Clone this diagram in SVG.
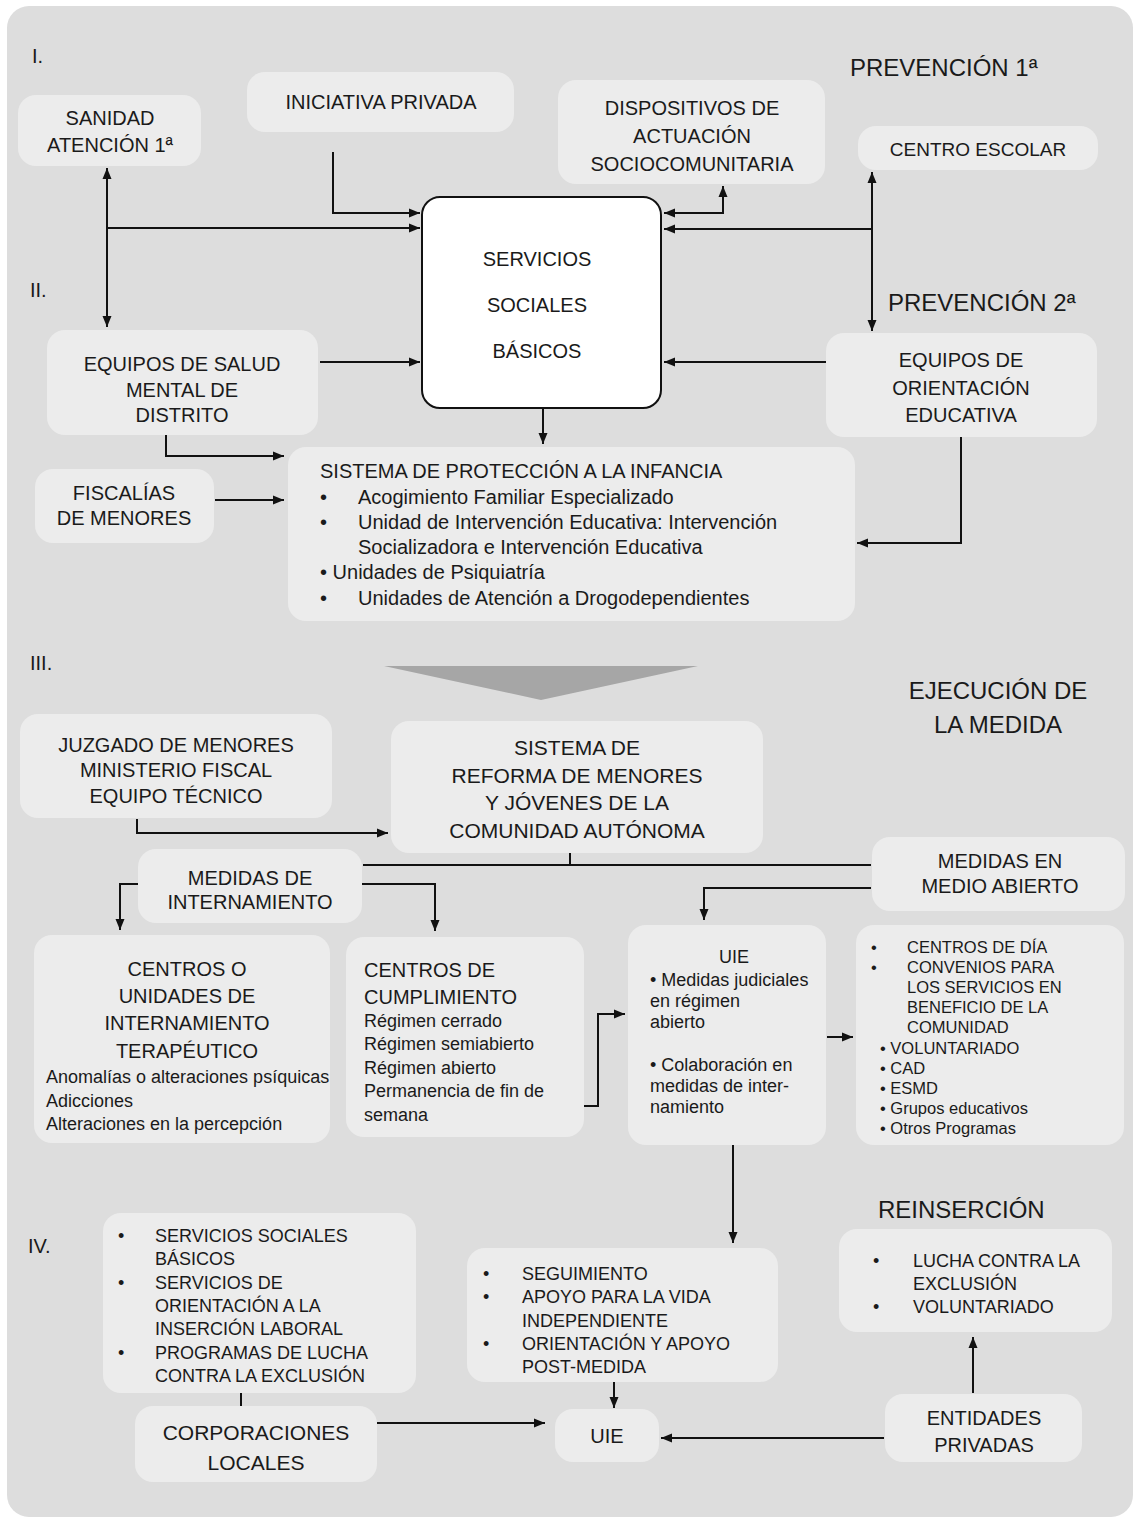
<svg xmlns="http://www.w3.org/2000/svg" width="1133" height="1520" viewBox="0 0 1133 1520">
<style>
text{font-family:"Liberation Sans",Arial,sans-serif;fill:#1a1a1a;font-size:20px}
.c{text-anchor:middle}
.h{font-size:24px}
.m{font-size:21px}
.s{font-size:18px}
.xs{font-size:16.5px}
.box{fill:#ececec}
.ln{fill:none;stroke:#111;stroke-width:2}
.a{marker-end:url(#ah)}
.d{marker-start:url(#ah2);marker-end:url(#ah)}
</style>
<defs>
<marker id="ah" markerUnits="userSpaceOnUse" markerWidth="12" markerHeight="10" refX="11" refY="5" orient="auto"><path d="M0,0.5 L11,5 L0,9.5 z" fill="#111"/></marker>
<marker id="ah2" markerUnits="userSpaceOnUse" markerWidth="12" markerHeight="10" refX="11" refY="5" orient="auto-start-reverse"><path d="M0,0.5 L11,5 L0,9.5 z" fill="#111"/></marker>
</defs>
<rect x="7" y="6" width="1126" height="1511" rx="22" fill="#dddddd"/>

<g id="labels">
<text x="32" y="63">I.</text>
<text x="30" y="297">II.</text>
<text x="30" y="670">III.</text>
<text x="28" y="1253">IV.</text>
<text class="h" x="850" y="76">PREVENCIÓN 1ª</text>
<text class="h" x="888" y="311">PREVENCIÓN 2ª</text>
<text class="h c" x="998" y="699">EJECUCIÓN DE</text>
<text class="h c" x="998" y="733">LA MEDIDA</text>
<text class="h" x="878" y="1218">REINSERCIÓN</text>
<polygon points="384,666 698,666 541,700" fill="#a6a6a6"/>
</g>

<g id="connectors">
<path class="ln d" d="M107,168 V327"/>
<path class="ln a" d="M107,228 H420"/>
<path class="ln a" d="M333,152 V213 H420"/>
<path class="ln a" d="M320,362 H420"/>
<path class="ln d" d="M723,186 V213 H664"/>
<path class="ln d" d="M872,172 V331"/>
<path class="ln a" d="M872,229 H664"/>
<path class="ln a" d="M826,362 H664"/>
<path class="ln a" d="M543,408 V444"/>
<path class="ln a" d="M166,435 V456 H284"/>
<path class="ln a" d="M215,500 H284"/>
<path class="ln a" d="M961,437 V543 H857"/>
<path class="ln a" d="M137,819 V833 H388"/>
<path class="ln" d="M570,853 V865 M363,865 H871"/>
<path class="ln a" d="M138,884 H120 V930"/>
<path class="ln a" d="M362,884 H435 V931"/>
<path class="ln a" d="M871,888 H704 V920"/>
<path class="ln a" d="M584,1106 H598 V1014 H625"/>
<path class="ln a" d="M827,1037 H853"/>
<path class="ln a" d="M733,1145 V1243"/>
<path class="ln a" d="M614,1382 V1408"/>
<path class="ln a" d="M377,1423 H545"/>
<path class="ln a" d="M884,1438 H661"/>
<path class="ln a" d="M973,1393 V1337"/>
<path class="ln" d="M241,1393 V1406"/>
</g>

<g id="sanidad"><rect class="box" x="18" y="95" width="183" height="71" rx="18"/>
<text class="c" x="110" y="125">SANIDAD</text><text class="c" x="110" y="152">ATENCIÓN 1ª</text></g>

<g id="iniciativa"><rect class="box" x="247" y="72" width="267" height="60" rx="18"/>
<text class="c" x="381" y="109">INICIATIVA PRIVADA</text></g>

<g id="dispositivos"><rect class="box" x="558" y="80" width="267" height="104" rx="18"/>
<text class="c" x="692" y="115">DISPOSITIVOS DE</text><text class="c" x="692" y="143">ACTUACIÓN</text><text class="c" x="692" y="171">SOCIOCOMUNITARIA</text></g>

<g id="escolar"><rect class="box" x="858" y="126" width="240" height="44" rx="18"/>
<text class="c" x="978" y="156" style="font-size:19px">CENTRO ESCOLAR</text></g>

<g id="ssb"><rect x="422" y="197" width="239" height="211" rx="18" fill="#fff" stroke="#111" stroke-width="2"/>
<text class="c" x="537" y="266">SERVICIOS</text><text class="c" x="537" y="312">SOCIALES</text><text class="c" x="537" y="358">BÁSICOS</text></g>

<g id="salud"><rect class="box" x="47" y="330" width="271" height="105" rx="18"/>
<text class="c" x="182" y="371">EQUIPOS DE SALUD</text><text class="c" x="182" y="397">MENTAL DE</text><text class="c" x="182" y="422">DISTRITO</text></g>

<g id="orientacion"><rect class="box" x="826" y="333" width="271" height="104" rx="18"/>
<text class="c" x="961" y="367">EQUIPOS DE</text><text class="c" x="961" y="395">ORIENTACIÓN</text><text class="c" x="961" y="422">EDUCATIVA</text></g>

<g id="fiscalias"><rect class="box" x="35" y="469" width="179" height="74" rx="18"/>
<text class="c" x="124" y="500">FISCALÍAS</text><text class="c" x="124" y="525">DE MENORES</text></g>

<g id="proteccion"><rect class="box" x="288" y="447" width="567" height="174" rx="18"/>
<text x="320" y="478">SISTEMA DE PROTECCIÓN A LA INFANCIA</text>
<text x="320" y="504">•</text><text x="358" y="504">Acogimiento Familiar Especializado</text>
<text x="320" y="529">•</text><text x="358" y="529">Unidad de Intervención Educativa: Intervención</text>
<text x="358" y="554">Socializadora e Intervención Educativa</text>
<text x="320" y="579">• Unidades de Psiquiatría</text>
<text x="320" y="605">•</text><text x="358" y="605">Unidades de Atención a Drogodependientes</text></g>

<g id="juzgado"><rect class="box" x="20" y="714" width="312" height="104" rx="18"/>
<text class="c" x="176" y="752">JUZGADO DE MENORES</text><text class="c" x="176" y="777">MINISTERIO FISCAL</text><text class="c" x="176" y="803">EQUIPO TÉCNICO</text></g>

<g id="reforma"><rect class="box" x="391" y="721" width="372" height="132" rx="18"/>
<text class="c m" x="577" y="755">SISTEMA DE</text><text class="c m" x="577" y="783">REFORMA DE MENORES</text><text class="c m" x="577" y="810">Y JÓVENES DE LA</text><text class="c m" x="577" y="838">COMUNIDAD AUTÓNOMA</text></g>

<g id="internamiento"><rect class="box" x="138" y="849" width="224" height="74" rx="18"/>
<text class="c" x="250" y="885">MEDIDAS DE</text><text class="c" x="250" y="909">INTERNAMIENTO</text></g>

<g id="medioabierto"><rect class="box" x="872" y="837" width="253" height="74" rx="18"/>
<text class="c" x="1000" y="868">MEDIDAS EN</text><text class="c" x="1000" y="893">MEDIO ABIERTO</text></g>

<g id="terapeutico"><rect class="box" x="34" y="935" width="296" height="208" rx="18"/>
<text class="c" x="187" y="976">CENTROS O</text><text class="c" x="187" y="1003">UNIDADES DE</text><text class="c" x="187" y="1030">INTERNAMIENTO</text><text class="c" x="187" y="1058">TERAPÉUTICO</text>
<text class="s" x="46" y="1083">Anomalías o alteraciones psíquicas</text><text class="s" x="46" y="1107">Adicciones</text><text class="s" x="46" y="1130">Alteraciones en la percepción</text></g>

<g id="cumplimiento"><rect class="box" x="346" y="937" width="238" height="200" rx="18"/>
<text x="364" y="977">CENTROS DE</text><text x="364" y="1004">CUMPLIMIENTO</text>
<text class="s" x="364" y="1027">Régimen cerrado</text><text class="s" x="364" y="1050">Régimen semiabierto</text><text class="s" x="364" y="1074">Régimen abierto</text><text class="s" x="364" y="1097">Permanencia de fin de</text><text class="s" x="364" y="1121">semana</text></g>

<g id="uie"><rect class="box" x="628" y="925" width="198" height="220" rx="18"/>
<text class="c s" x="734" y="963">UIE</text>
<text class="s" x="650" y="986">• Medidas judiciales</text><text class="s" x="650" y="1007">en régimen</text><text class="s" x="650" y="1028">abierto</text>
<text class="s" x="650" y="1071">• Colaboración en</text><text class="s" x="650" y="1092">medidas de inter-</text><text class="s" x="650" y="1113">namiento</text></g>

<g id="programas"><rect class="box" x="856" y="925" width="268" height="220" rx="18"/>
<text class="xs" x="871" y="953">•</text><text class="xs" x="907" y="953">CENTROS DE DÍA</text>
<text class="xs" x="871" y="973">•</text><text class="xs" x="907" y="973">CONVENIOS PARA</text>
<text class="xs" x="907" y="993">LOS SERVICIOS EN</text><text class="xs" x="907" y="1013">BENEFICIO DE LA</text><text class="xs" x="907" y="1033">COMUNIDAD</text>
<text class="xs" x="880" y="1054">• VOLUNTARIADO</text><text class="xs" x="880" y="1074">• CAD</text><text class="xs" x="880" y="1094">• ESMD</text><text class="xs" x="880" y="1114">• Grupos educativos</text><text class="xs" x="880" y="1134">• Otros Programas</text></g>

<g id="servicios-iv"><rect class="box" x="103" y="1213" width="313" height="180" rx="18"/>
<text class="s" x="118" y="1242">•</text><text class="s" x="155" y="1242">SERVICIOS SOCIALES</text><text class="s" x="155" y="1265">BÁSICOS</text>
<text class="s" x="118" y="1289">•</text><text class="s" x="155" y="1289">SERVICIOS DE</text><text class="s" x="155" y="1312">ORIENTACIÓN A LA</text><text class="s" x="155" y="1335">INSERCIÓN LABORAL</text>
<text class="s" x="118" y="1359">•</text><text class="s" x="155" y="1359">PROGRAMAS DE LUCHA</text><text class="s" x="155" y="1382">CONTRA LA EXCLUSIÓN</text></g>

<g id="seguimiento"><rect class="box" x="467" y="1248" width="311" height="134" rx="18"/>
<text class="s" x="483" y="1280">•</text><text class="s" x="522" y="1280">SEGUIMIENTO</text>
<text class="s" x="483" y="1303">•</text><text class="s" x="522" y="1303">APOYO PARA LA VIDA</text><text class="s" x="522" y="1327">INDEPENDIENTE</text>
<text class="s" x="483" y="1350">•</text><text class="s" x="522" y="1350">ORIENTACIÓN Y APOYO</text><text class="s" x="522" y="1373">POST-MEDIDA</text></g>

<g id="reinsercion"><rect class="box" x="839" y="1229" width="273" height="103" rx="18"/>
<text class="s" x="873" y="1267">•</text><text class="s" x="913" y="1267">LUCHA CONTRA LA</text><text class="s" x="913" y="1290">EXCLUSIÓN</text>
<text class="s" x="873" y="1313">•</text><text class="s" x="913" y="1313">VOLUNTARIADO</text></g>

<g id="corporaciones"><rect class="box" x="135" y="1406" width="242" height="76" rx="18"/>
<text class="c m" x="256" y="1440">CORPORACIONES</text><text class="c m" x="256" y="1470">LOCALES</text></g>

<g id="uie2"><rect class="box" x="555" y="1409" width="104" height="53" rx="18"/>
<text class="c" x="607" y="1443">UIE</text></g>

<g id="entidades"><rect class="box" x="885" y="1394" width="197" height="68" rx="18"/>
<text class="c" x="984" y="1425">ENTIDADES</text><text class="c" x="984" y="1452">PRIVADAS</text></g>
</svg>
